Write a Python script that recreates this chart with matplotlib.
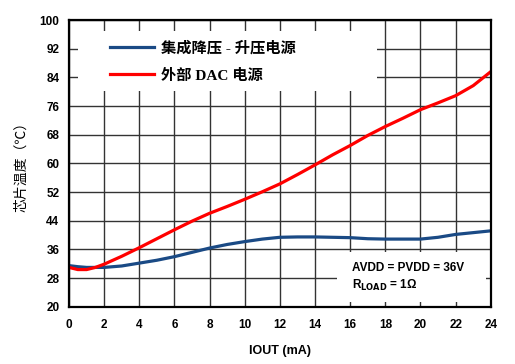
import matplotlib
matplotlib.use('Agg')
import matplotlib.pyplot as plt
from matplotlib.patches import Rectangle

# data
iout = [0, 0.5, 1, 1.5, 2, 3, 4, 5, 6, 7, 8, 9, 10, 11, 12, 13, 14, 15, 16, 17, 18, 19, 20, 21, 22, 23, 24]
t_boost = [31.5, 31.2, 31.0, 31.0, 31.0, 31.4, 32.2, 33.0, 34.0, 35.2, 36.4, 37.4, 38.2, 38.9, 39.4, 39.5, 39.5, 39.4, 39.3, 39.0, 38.9, 38.9, 38.9, 39.4, 40.2, 40.7, 41.2]
t_dac = [31.0, 30.4, 30.4, 31.0, 31.9, 34.1, 36.5, 39.0, 41.5, 43.9, 46.1, 48.0, 50.0, 52.1, 54.3, 56.9, 59.6, 62.4, 65.0, 67.8, 70.3, 72.6, 75.0, 76.9, 78.9, 81.7, 85.6]
labels = ['集成降压 - 升压电源', '外部 DAC 电源']
xticks = list(range(0, 25, 2))
yticks = list(range(20, 101, 8))

fig = plt.figure(figsize=(5.15, 3.64), dpi=100)
ax = fig.add_axes([0.134, 0.157, 0.819, 0.788])

ax.set_xlim(0, 24)
ax.set_ylim(20, 100)
ax.set_xticks(xticks)
ax.set_yticks(yticks)
ax.grid(True, color='#333333', linewidth=1.0, zorder=1)
ax.tick_params(axis='x', length=0, pad=9)
ax.tick_params(axis='y', length=0, pad=7)
for lab in ax.get_xticklabels() + ax.get_yticklabels():
    lab.set_fontweight('bold')
    lab.set_fontsize(8.5)
    lab.set_family('Liberation Sans')
for s in ax.spines.values():
    s.set_linewidth(1.6)
    s.set_zorder(5)

# white boxes covering the grid
ax.add_patch(Rectangle((0.021, 0.753), 0.709, 0.209, transform=ax.transAxes,
                       facecolor='white', edgecolor='none', zorder=2))
ax.add_patch(Rectangle((0.635, 0.017), 0.353, 0.175, transform=ax.transAxes,
                       facecolor='white', edgecolor='none', zorder=2))

l1, = ax.plot(iout, t_boost, color='#1a4a85', linewidth=2.3, zorder=3)
l2, = ax.plot(iout, t_dac, color='#ff0000', linewidth=2.3, zorder=3)

leg = ax.legend([l1, l2], labels, loc='upper left', bbox_to_anchor=(0.065, 0.975),
                frameon=False, handlelength=2.9, handletextpad=0.45, labelspacing=0.85,
                prop=dict(family=['Liberation Serif', 'Noto Sans CJK SC'], weight='bold', size=11))
leg.set_zorder(4)

ax.text(0.67, 0.135, 'AVDD = PVDD = 36V', transform=ax.transAxes, fontsize=8.5,
        fontweight='bold', family='Liberation Sans', va='center', zorder=4)
ax.text(0.67, 0.075, r'R$_{\mathbf{LOAD}}$ = 1Ω', transform=ax.transAxes, fontsize=8.5,
        fontweight='bold', family='Liberation Sans', va='center', zorder=4)

ax.set_xlabel('IOUT (mA)', fontsize=9, fontweight='bold', family='Liberation Sans', labelpad=10)
ax.set_ylabel('芯片温度（℃）', fontsize=10, family=['Noto Sans CJK SC', 'DejaVu Sans'], labelpad=8)

fig.savefig('out.png', dpi=100)
